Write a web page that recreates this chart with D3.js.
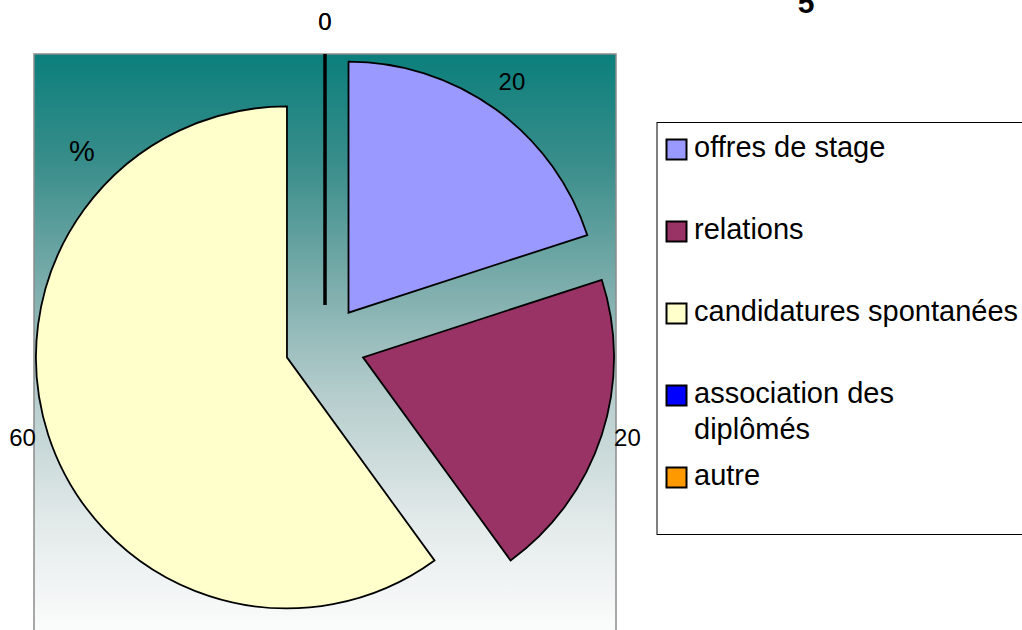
<!DOCTYPE html>
<html>
<head>
<meta charset="utf-8">
<script src="https://cdn.jsdelivr.net/npm/d3@7"></script>
<style>
  html, body { margin: 0; padding: 0; background: #ffffff; }
  svg { display: block; }
  text { font-family: "Liberation Sans", Arial, sans-serif; fill: #000; }
</style>
</head>
<body>
<svg id="chart" width="1022" height="630"></svg>
<script>
// ---- data ----
const categories = ["offres de stage", "relations", "candidatures spontanées", "association des diplômés", "autre"];
const values = [20, 20, 60, 0, 0];
const colors = ["#9999FF", "#993366", "#FFFFCC", "#0000FF", "#FF9900"];
const legendLabels = [["offres de stage"], ["relations"], ["candidatures spontanées"], ["association des", "diplômés"], ["autre"]];
const titleText = "5";
const unitText = "%";

// ---- layout ----
const plot = { x: 34, y: 54, w: 582, h: 620 };
const cx = 325, cy = 345, R = 251, explode = 40, labelR = 318, labelShiftY = -6;

const svg = d3.select("#chart");
const defs = svg.append("defs");
const grad = defs.append("linearGradient").attr("id", "bg")
  .attr("x1", 0).attr("y1", 0).attr("x2", 0).attr("y2", 1);
[[0, "#0B7F7C"], [0.18, "#3A8E8B"], [0.38, "#7EAEAD"], [0.55, "#B6CDCD"], [0.75, "#E2E9E9"], [0.92, "#FAFBFB"], [1, "#FFFFFF"]]
  .forEach(([o, c]) => grad.append("stop").attr("offset", o).attr("stop-color", c));

// plot area
svg.append("rect")
  .attr("x", plot.x).attr("y", plot.y).attr("width", plot.w).attr("height", plot.h)
  .attr("fill", "url(#bg)").attr("stroke", "#8c8c8c").attr("stroke-width", 1.5);

// pie
const pie = d3.pie().sort(null).value(d => d).startAngle(0).endAngle(2 * Math.PI);
const arcs = pie(values);
const arc = d3.arc().innerRadius(0).outerRadius(R);
const labelArc = d3.arc().innerRadius(labelR).outerRadius(labelR);
const mid = d => (d.startAngle + d.endAngle) / 2;

const g = svg.append("g").attr("transform", `translate(${cx},${cy})`);
g.selectAll("path.slice").data(arcs).join("path")
  .attr("class", "slice")
  .attr("transform", d => `translate(${Math.sin(mid(d)) * explode},${-Math.cos(mid(d)) * explode})`)
  .attr("d", arc)
  .attr("fill", (d, i) => colors[i])
  .attr("stroke", "#000")
  .attr("stroke-width", d => d.value === 0 ? 3 : 1.8)
  .attr("stroke-linejoin", "miter");

const lblG = svg.append("g").attr("transform", `translate(${cx},${cy + labelShiftY})`);
lblG.selectAll("text.val").data(arcs).join("text")
  .attr("class", "val")
  .attr("x", d => labelArc.centroid(d)[0])
  .attr("y", d => labelArc.centroid(d)[1])
  .attr("text-anchor", "middle")
  .attr("dominant-baseline", "central")
  .attr("font-size", 24)
  .text(d => d3.format("d")(d.value));

// unit text
svg.append("text").attr("x", 82).attr("y", 161).attr("text-anchor", "middle")
  .attr("font-size", 29).text(unitText);

// title (cut at top, as in the original)
svg.append("text").attr("x", 806).attr("y", 13).attr("text-anchor", "middle")
  .attr("font-size", 30).attr("font-weight", "bold").text(titleText);

// legend
const lg = svg.append("g");
lg.append("rect").attr("x", 657).attr("y", 122.5).attr("width", 400).attr("height", 412)
  .attr("fill", "#fff").attr("stroke", "#000").attr("stroke-width", 1);
const rowY = d3.scaleLinear().domain([0, 1]).range([157, 239]);
const items = lg.selectAll("g.item").data(categories).join("g").attr("class", "item")
  .attr("transform", (d, i) => `translate(0,${rowY(i)})`);
items.append("rect").attr("x", 666.5).attr("y", -17.5).attr("width", 20).attr("height", 20)
  .attr("fill", (d, i) => colors[i]).attr("stroke", "#000").attr("stroke-width", 2);
items.each(function (d, i) {
  const t = d3.select(this).append("text").attr("x", 694).attr("y", 0).attr("font-size", 29);
  legendLabels[i].forEach((line, k) => {
    t.append("tspan").attr("x", 694).attr("dy", k === 0 ? 0 : 36).text(line);
  });
});
</script>
</body>
</html>
